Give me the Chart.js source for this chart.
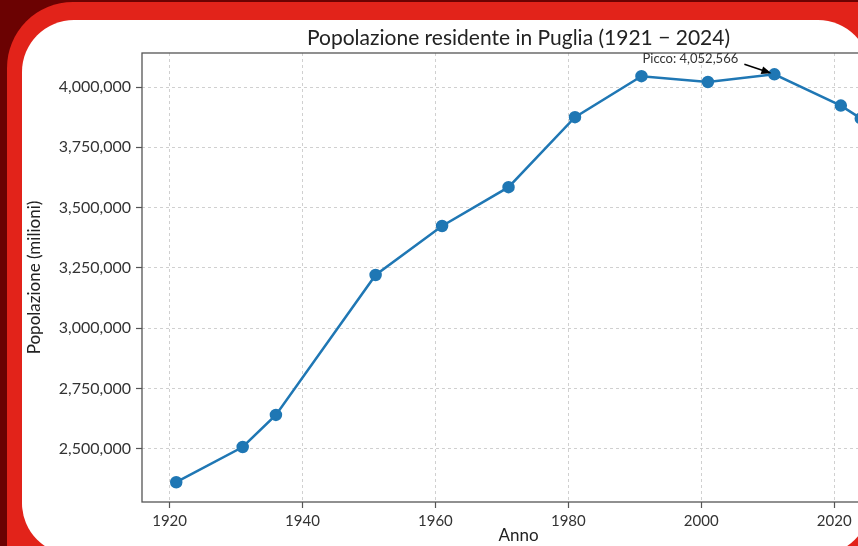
<!DOCTYPE html>
<html>
<head>
<meta charset="utf-8">
<script src="https://cdn.jsdelivr.net/npm/chart.js@4/dist/chart.umd.min.js"></script>
<style>
  html, body { margin: 0; padding: 0; width: 858px; height: 546px; overflow: hidden; background: #6b0202; }
  .frame { position: absolute; left: 7px; top: 2px; width: 1000px; height: 700px; border-radius: 66px; background: #e2231a; }
  .card { position: absolute; left: 22px; top: 20px; width: 848px; height: 535px; border-radius: 52px; background: #ffffff; }
  #chart { position: absolute; left: 0; top: 0; }
</style>
</head>
<body>
<div class="frame"></div>
<div class="card"></div>
<canvas id="chart" width="1037" height="546"></canvas>
<script>
const years = [1921, 1931, 1936, 1951, 1961, 1971, 1981, 1991, 2001, 2011, 2021, 2024];
const population = [2362000, 2508000, 2641000, 3221000, 3424000, 3585000, 3875000, 4045000, 4020707, 4052566, 3922941, 3870000];
const xTicks = [1920, 1940, 1960, 1980, 2000, 2020];
const yTicks = [2500000, 2750000, 3000000, 3250000, 3500000, 3750000, 4000000];

const peakIndex = population.indexOf(Math.max(...population));
const fontFamily = 'Lato, "Open Sans", sans-serif';

// frame around the plot + peak annotation
const extras = {
  id: 'extras',
  afterDraw(chart) {
    const ctx = chart.ctx;
    const a = chart.chartArea;
    ctx.save();
    ctx.strokeStyle = '#555';
    ctx.lineWidth = 1.3;
    ctx.strokeRect(a.left, a.top, a.right - a.left, a.bottom - a.top);

    const px = chart.scales.x.getPixelForValue(years[peakIndex]);
    const py = chart.scales.y.getPixelForValue(population[peakIndex]);
    ctx.fillStyle = '#333';
    ctx.font = '13px ' + fontFamily;
    ctx.textAlign = 'center';
    ctx.textBaseline = 'middle';
    ctx.fillText('Picco: ' + population[peakIndex].toLocaleString('en-US'), px - 84, py - 16);

    const sx = px - 30, sy = py - 10, ex = px - 3, ey = py - 1;
    const ang = Math.atan2(ey - sy, ex - sx);
    ctx.strokeStyle = '#000';
    ctx.lineWidth = 1.5;
    ctx.beginPath();
    ctx.moveTo(sx, sy);
    ctx.lineTo(ex - 8 * Math.cos(ang), ey - 8 * Math.sin(ang));
    ctx.stroke();
    ctx.fillStyle = '#000';
    ctx.beginPath();
    ctx.moveTo(ex, ey);
    ctx.lineTo(ex - 10 * Math.cos(ang) + 4 * Math.sin(ang), ey - 10 * Math.sin(ang) - 4 * Math.cos(ang));
    ctx.lineTo(ex - 10 * Math.cos(ang) - 4 * Math.sin(ang), ey - 10 * Math.sin(ang) + 4 * Math.cos(ang));
    ctx.closePath();
    ctx.fill();
    ctx.restore();
  }
};

new Chart(document.getElementById('chart').getContext('2d'), {
  type: 'line',
  data: {
    datasets: [{
      data: years.map((y, i) => ({ x: y, y: population[i] })),
      borderColor: '#1f77b4',
      backgroundColor: '#1f77b4',
      borderWidth: 2.5,
      pointRadius: 5,
      pointHoverRadius: 5,
      tension: 0,
      fill: false
    }]
  },
  options: {
    responsive: false,
    devicePixelRatio: 1,
    animation: false,
    layout: { padding: { left: 24, right: 142, top: 0, bottom: 0 } },
    plugins: {
      legend: { display: false },
      tooltip: { enabled: false },
      title: {
        display: true,
        fullSize: false,
        text: 'Popolazione residente in Puglia (1921 \u2212 2024)',
        color: '#222',
        font: { family: fontFamily, size: 21, weight: 'normal', lineHeight: 1.2 },
        padding: { top: 26, bottom: 1.8 }
      }
    },
    scales: {
      x: {
        type: 'linear',
        min: 1915.85,
        max: 2029.15,
        afterBuildTicks: s => { s.ticks = xTicks.map(v => ({ value: v })); },
        afterFit: s => { s.height = 44; },
        grid: { color: '#d0d0d0', tickColor: '#555', tickLength: 6, tickWidth: 1.2 },
        border: { display: false, dash: [3, 3] },
        ticks: { color: '#333', font: { family: fontFamily, size: 15 }, padding: 4, maxRotation: 0,
                 callback: v => String(v) },
        title: { display: true, text: 'Anno', color: '#222', font: { family: fontFamily, size: 17 }, padding: 0 }
      },
      y: {
        type: 'linear',
        min: 2280000,
        max: 4141000,
        afterBuildTicks: s => { s.ticks = yTicks.map(v => ({ value: v })); },
        afterFit: s => { s.width = 118; },
        grid: { color: '#d0d0d0', tickColor: '#555', tickLength: 6, tickWidth: 1.2 },
        border: { display: false, dash: [3, 3] },
        ticks: { color: '#333', font: { family: fontFamily, size: 16 }, padding: 5,
                 callback: v => v.toLocaleString('en-US') },
        title: { display: true, text: 'Popolazione (milioni)', color: '#222', font: { family: fontFamily, size: 17 }, padding: 0 }
      }
    }
  },
  plugins: [extras]
});
</script>
</body>
</html>
